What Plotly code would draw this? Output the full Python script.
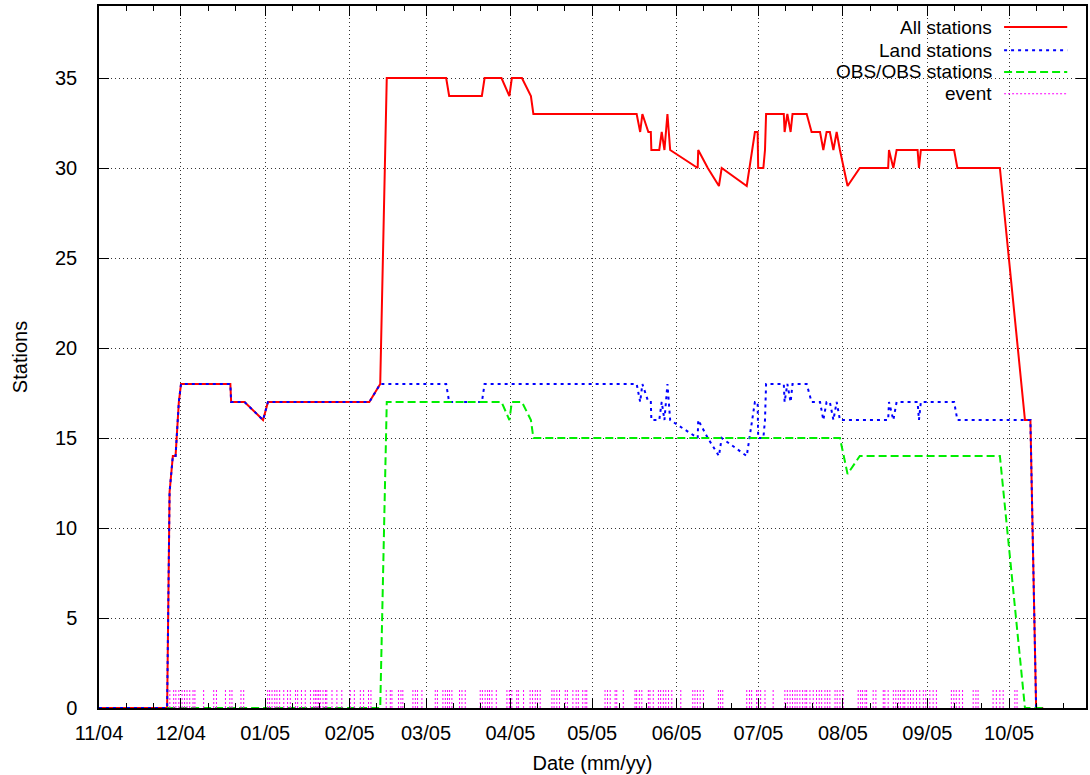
import plotly.graph_objects as go
import pandas as pd

START = pd.Timestamp("2004-11-01")

# days since 2004-11-01 of each sample
sample_day = [0, 25.0, 25.9, 27.1, 28.1, 29.3, 30.1, 48.2, 48.5, 53.4, 60.2, 62.0, 99.2, 103.2,
              105.6, 127.4, 128.5, 140.5, 141.5, 147.7, 150.6, 151.5, 155.2, 158.5, 159.4,
              197.3, 198.6, 199.4, 201.6, 202.5, 202.7, 205.6, 206.5, 207.5, 208.6, 209.6,
              219.7, 219.9, 223.4, 227.5, 228.5, 237.7, 240.7, 241.7, 241.9, 243.8, 244.4,
              244.8, 251.3, 251.6, 252.6, 253.8, 254.5, 259.7, 261.5, 264.6, 265.8, 267.0,
              268.2, 269.5, 270.7, 271.9, 274.7, 279.2, 289.6, 289.9, 291.5, 292.7, 300.4,
              300.9, 301.6, 313.8, 315.0, 330.6, 339.8, 341.8, 343.9, 346.5]

all_stations = [0, 0, 12, 14, 14, 17, 18, 18, 17, 17, 16, 17, 17, 18,
                35, 35, 34, 34, 35, 35, 34, 35, 35, 34, 33,
                33, 32, 33, 32, 32, 31, 31, 32, 31, 33, 31,
                30, 31, 30, 29, 30, 29, 32, 32, 30, 30, 31,
                33, 33, 32, 33, 32, 33, 33, 32, 32, 31, 32,
                32, 31, 32, 31, 29, 30, 30, 31, 30, 31, 31,
                30, 31, 31, 30, 30, 16, 16, 0, 0]

land_stations = [0, 0, 12, 14, 14, 17, 18, 18, 17, 17, 16, 17, 17, 18,
                 18, 18, 17, 17, 18, 18, 18, 18, 18, 18, 18,
                 18, 17, 18, 17, 17, 16, 16, 17, 16, 18, 16,
                 15, 16, 15, 14, 15, 14, 17, 17, 15, 15, 16,
                 18, 18, 17, 18, 17, 18, 18, 17, 17, 16, 17,
                 17, 16, 17, 16, 16, 16, 16, 17, 16, 17, 17,
                 16, 17, 17, 16, 16, 16, 16, 0, 0]

obs_stations = [None, 0, 0, 0, 0, 0, 0, 0, 0, 0, 0, 0, 0, 0,
                17, 17, 17, 17, 17, 17, 16, 17, 17, 16, 15,
                15, 15, 15, 15, 15, 15, 15, 15, 15, 15, 15,
                15, 15, 15, 15, 15, 15, 15, 15, 15, 15, 15,
                15, 15, 15, 15, 15, 15, 15, 15, 15, 15, 15,
                15, 15, 15, 15, 13, 14, 14, 14, 14, 14, 14,
                14, 14, 14, 14, 14, 0, 0, 0, 0]

event_day = [26.0, 27.4, 28.2, 29.3, 30.5, 31.4, 32.3, 33.3, 34.5, 35.2, 38.4, 42.1, 43.1, 46.4,
             48.0, 48.8, 52.1, 53.1, 61.9, 62.6, 63.5, 64.5, 65.3, 66.3, 67.8, 69.2, 70.2, 72.1,
             72.9, 74.3, 75.7, 77.6, 78.8, 79.4, 80.0, 80.6, 81.2, 82.2, 83.1, 83.6, 85.5, 87.3,
             89.1, 92.2, 93.7, 95.9, 97.1, 98.9, 99.8,
             105.4, 106.9, 107.5, 109.9, 110.8, 111.5, 115.2, 116.1, 116.9, 118.5, 123.4, 124.2,
             126.2, 127.1, 127.9, 128.6, 129.5, 132.3, 133.2, 134.4, 139.9, 140.7, 141.7, 142.6,
             143.3, 144.2, 145.8, 149.7, 150.6, 151.5, 153.3, 153.9, 155.8, 158.2, 159.1, 160.1,
             160.9, 161.9, 166.2, 167.0, 168.0, 169.0, 171.1, 171.9, 173.9, 175.1, 175.9, 177.5,
             178.4, 179.0,
             185.7, 186.6, 187.6, 189.4, 190.0, 192.4, 196.7, 197.3, 198.3, 199.2, 201.6, 202.2,
             203.4, 205.3, 206.1, 207.1, 208.0, 209.0, 210.2, 213.5, 217.9, 218.7, 219.6, 220.6,
             221.8, 227.3, 228.1, 228.9, 237.7, 238.7, 239.5, 241.3, 241.9, 242.8, 244.4, 247.4,
             251.7, 252.6, 253.6, 254.5, 255.4, 256.2, 257.2, 258.2, 259.1, 259.7, 260.9, 262.1,
             263.3, 264.3, 265.2,
             266.4, 267.3, 268.2, 270.1, 270.9, 271.9, 273.1, 278.6, 279.5, 280.2, 281.1, 281.7,
             284.1, 285.1, 287.8, 288.4, 289.6, 291.5, 292.4, 293.3, 294.1, 295.1, 295.7, 296.9,
             297.8, 298.8, 300.0, 301.2, 302.5, 303.4, 304.9, 306.1, 307.3, 312.8, 313.7, 314.6,
             315.7, 316.9, 320.8, 321.8, 322.6, 328.1, 329.3, 330.6, 331.8, 336.1, 336.9]
event_height = 1

legend_names = ["All stations", "Land stations", "OBS/OBS stations", "event"]

FONT = "Liberation Sans, Arial, Helvetica, sans-serif"
FS = 20
t = START + pd.to_timedelta(sample_day, unit="D")
ev_t = START + pd.to_timedelta(event_day, unit="D")

ex, ey = [], []
for d in ev_t:
    ex += [d, d, None]
    ey += [0, event_height, None]

fig = go.Figure()
fig.add_trace(go.Scatter(x=t, y=all_stations, mode="lines", name=legend_names[0],
                         line=dict(color="#ff0000", width=2)))
fig.add_trace(go.Scatter(x=t, y=land_stations, mode="lines", name=legend_names[1],
                         line=dict(color="#0000ff", width=2, dash="3px,4px")))
fig.add_trace(go.Scatter(x=t, y=obs_stations, mode="lines", name=legend_names[2],
                         line=dict(color="#00ee00", width=2, dash="8px,4px")))
fig.add_trace(go.Scatter(x=ex, y=ey, mode="lines", name=legend_names[3],
                         line=dict(color="#ff00ff", width=1, dash="2px,2px")))

# month ticks and minor ticks
months = pd.date_range("2004-11-01", "2005-10-01", freq="MS")
minor_vals = []
for m in months:
    minor_vals += [m + pd.Timedelta(days=10), m + pd.Timedelta(days=20)]

x_end = START + pd.Timedelta(days=362.2)

fig.update_layout(
    width=1090, height=775,
    margin=dict(l=99, r=2, t=6, b=67),
    paper_bgcolor="white", plot_bgcolor="white",
    showlegend=False,
    font=dict(family=FONT, size=FS, color="black"),
    xaxis=dict(
        range=[START, x_end], type="date",
        tickmode="array", tickvals=list(months), tickformat="%m/%y",
        ticks="inside", ticklen=10, tickwidth=1, tickcolor="black",
        showline=True, linecolor="black", linewidth=1.5, mirror="ticks",
        showgrid=True, gridcolor="#333", griddash="1px,3px", gridwidth=1,
        minor=dict(tickmode="array", tickvals=minor_vals, ticks="inside", ticklen=5,
                   tickcolor="black", showgrid=False),
        zeroline=False,
        ticklabelstandoff=6,
        title=dict(text="Date (mm/yy)", font=dict(size=FS), standoff=13),
    ),
    yaxis=dict(
        range=[0, 39], tickmode="array", tickvals=[0, 5, 10, 15, 20, 25, 30, 35],
        ticks="inside", ticklen=10, tickwidth=1, tickcolor="black",
        showline=True, linecolor="black", linewidth=1.5, mirror="ticks",
        showgrid=True, gridcolor="#333", griddash="1px,3px", gridwidth=1,
        zeroline=False,
        ticklabelstandoff=16,
        title=dict(text="Stations", font=dict(size=FS), standoff=22),
    ),
)

# opaque key box (covers grid like the original key)
fig.add_shape(type="rect", xref="paper", yref="paper", x0=0.689, x1=1.0, y0=0.859, y1=1.0,
              fillcolor="white", line=dict(width=0), layer="below")

key_y = [0.970, 0.937, 0.906, 0.875]
key_style = [dict(color="#ff0000", width=2),
             dict(color="#0000ff", width=2, dash="3px,4px"),
             dict(color="#00ee00", width=2, dash="8px,4px"),
             dict(color="#ff00ff", width=1, dash="2px,2px")]
for name, yk, st in zip(legend_names, key_y, key_style):
    fig.add_annotation(xref="paper", yref="paper", x=0.9065, y=yk, text=name, showarrow=False,
                       xanchor="right", yanchor="middle", font=dict(size=19, color="black"))
    fig.add_shape(type="line", xref="paper", yref="paper", x0=0.917, x1=0.981, y0=yk, y1=yk,
                  line=st, layer="above")

fig.write_html("out.html")
